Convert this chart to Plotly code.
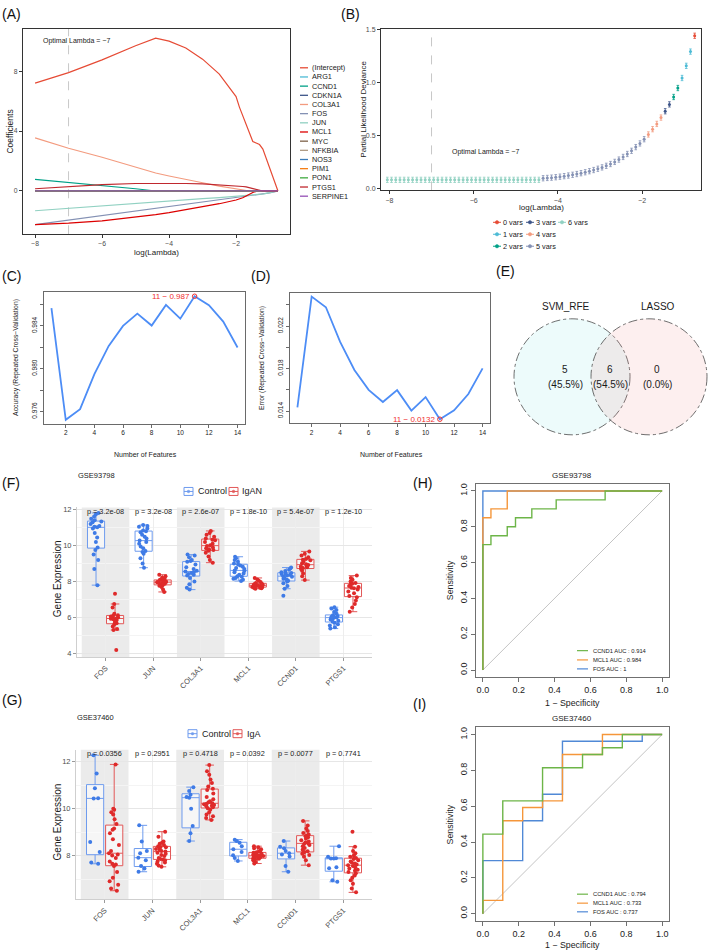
import plotly.graph_objects as go

FONT = "Liberation Sans, Arial, Helvetica, sans-serif"
W, H = 708, 952

# ======================= DATA =======================
# (A) LASSO coefficient paths
lasso_loglambda = [-8, -7, -6, -5, -4.4, -4, -3.5, -3, -2.5, -2, -1.9, -1.8, -1.7, -1.6,
                   -1.5, -1.4, -1.3, -1.2, -1.1, -1.0, -0.9, -0.75]
path_intercept = [7.2, 7.9, 8.75, 9.7, 10.2, 10.0, 9.55, 8.8, 7.8, 6.3, 5.6, 5.0, 4.5, 3.9,
                  3.3, 3.2, 3.1, 2.8, 2.2, 1.6, 0.9, 0.0]
path_col3a1 = [3.55, 2.85, 2.25, 1.6, 1.2, 1.0, 0.75, 0.55, 0.32, 0.12, 0.08, 0.05, 0.02, 0.0,
               0.0, 0.0, 0.0, 0.0, 0.0, 0.0, 0.0, 0.0]
path_ccnd1 = [0.78, 0.58, 0.38, 0.15, 0.0, 0.0, 0.0, 0.0, 0.0, 0.0, 0.0, 0.0, 0.0, 0.0,
              0.0, 0.0, 0.0, 0.0, 0.0, 0.0, 0.0, 0.0]
path_ptgs1 = [0.15, 0.3, 0.42, 0.5, 0.52, 0.52, 0.5, 0.48, 0.42, 0.35, 0.32, 0.3, 0.27, 0.22,
              0.15, 0.08, 0.02, 0.0, 0.0, 0.0, 0.0, 0.0]
path_mcl1 = [-2.25, -2.15, -2.0, -1.75, -1.58, -1.45, -1.25, -1.05, -0.85, -0.6, -0.55, -0.45,
             -0.33, -0.2, -0.1, -0.03, 0.0, 0.0, 0.0, 0.0, 0.0, 0.0]
path_fos = [-2.25, -1.95, -1.65, -1.35, -1.18, -1.05, -0.9, -0.75, -0.6, -0.45, -0.42, -0.39,
            -0.36, -0.33, -0.3, -0.27, -0.24, -0.21, -0.17, -0.13, -0.08, 0.0]
path_jun = [-1.32, -1.15, -0.98, -0.82, -0.73, -0.67, -0.59, -0.51, -0.44, -0.36, -0.34, -0.32,
            -0.31, -0.29, -0.27, -0.25, -0.23, -0.2, -0.16, -0.12, -0.07, 0.0]
path_zero = [0.0, 0.0, 0.0, 0.0, 0.0, 0.0, 0.0, 0.0, 0.0, 0.0, 0.0, 0.0, 0.0, 0.0,
             0.0, 0.0, 0.0, 0.0, 0.0, 0.0, 0.0, 0.0]
lasso_genes = ["(Intercept)", "ARG1", "CCND1", "CDKN1A", "COL3A1", "FOS", "JUN", "MCL1",
               "MYC", "NFKBIA", "NOS3", "PIM1", "PON1", "PTGS1", "SERPINE1"]
optimal_log_lambda = -7

# (B) cross-validation deviance
cv_loglambda = [-8.05, -7.95, -7.85, -7.75, -7.65, -7.55, -7.45, -7.35, -7.25, -7.15,
                -7.05, -6.95, -6.85, -6.75, -6.65, -6.55, -6.45, -6.35, -6.25, -6.15,
                -6.05, -5.95, -5.85, -5.75, -5.65, -5.55, -5.45, -5.35, -5.25, -5.15,
                -5.05, -4.95, -4.85, -4.75, -4.65, -4.55, -4.45,
                -4.35, -4.25, -4.15, -4.05, -3.95, -3.85, -3.75, -3.65, -3.55, -3.45,
                -3.35, -3.25, -3.15, -3.05, -2.95, -2.85, -2.75, -2.65, -2.55, -2.45,
                -2.35, -2.25, -2.15, -2.05, -1.95,
                -1.85, -1.75, -1.65, -1.55,
                -1.45, -1.35,
                -1.25, -1.15,
                -1.05, -0.95, -0.85,
                -0.75]
cv_deviance = [0.08, 0.08, 0.08, 0.08, 0.08, 0.08, 0.08, 0.08, 0.08, 0.08,
               0.08, 0.08, 0.08, 0.08, 0.08, 0.08, 0.08, 0.08, 0.08, 0.08,
               0.08, 0.08, 0.08, 0.08, 0.08, 0.08, 0.08, 0.08, 0.08, 0.08,
               0.08, 0.08, 0.08, 0.08, 0.08, 0.08, 0.08,
               0.095, 0.098, 0.101, 0.105, 0.110, 0.115, 0.121, 0.128, 0.135, 0.143,
               0.152, 0.162, 0.173, 0.185, 0.198, 0.213, 0.230, 0.250, 0.272, 0.297,
               0.325, 0.355, 0.390, 0.425, 0.465,
               0.51, 0.56, 0.61, 0.67,
               0.73, 0.795,
               0.865, 0.95,
               1.045, 1.16, 1.295,
               1.445]
cv_nvars = [6, 6, 6, 6, 6, 6, 6, 6, 6, 6,
            6, 6, 6, 6, 6, 6, 6, 6, 6, 6,
            6, 6, 6, 6, 6, 6, 6, 6, 6, 6,
            6, 6, 6, 6, 6, 6, 6,
            5, 5, 5, 5, 5, 5, 5, 5, 5, 5,
            5, 5, 5, 5, 5, 5, 5, 5, 5, 5,
            5, 5, 5, 5, 5,
            4, 4, 4, 4,
            3, 3,
            2, 2,
            1, 1, 1,
            0]
cv_se = 0.025

# (C)/(D) SVM-RFE
rfe_features = [1, 2, 3, 4, 5, 6, 7, 8, 9, 10, 11, 12, 13, 14]
rfe_accuracy = [0.98565, 0.97522, 0.97622, 0.97949, 0.98213, 0.98400, 0.98515,
                0.98403, 0.98596, 0.98468, 0.98677, 0.98593, 0.98440, 0.98198]
rfe_error = [0.01435, 0.02478, 0.02378, 0.02051, 0.01787, 0.01600, 0.01485,
             0.01597, 0.01404, 0.01532, 0.01323, 0.01407, 0.01560, 0.01802]

# (E) Venn
venn_names = ["SVM_RFE", "LASSO"]
venn_counts = [5, 6, 0]  # SVM only, both, LASSO only

# (F) GSE93798 expression
genes = ["FOS", "JUN", "COL3A1", "MCL1", "CCND1", "PTGS1"]
f_control = {
    "FOS": [11.82, 11.75, 11.62, 11.5, 11.42, 11.35, 11.3, 11.2, 11.1, 11.05, 11.02, 10.95, 10.7, 10.45, 10.2, 9.9, 9.75, 9.5, 9.2, 8.7, 7.8],
    "JUN": [11.15, 11.1, 11.05, 10.95, 10.85, 10.8, 10.75, 10.6, 10.5, 10.4, 10.28, 10.2, 10.1, 9.95, 9.85, 9.7, 9.65, 9.55, 9.3, 9.0, 8.77],
    "COL3A1": [9.5, 9.45, 9.35, 9.2, 9.15, 9.1, 8.95, 8.8, 8.7, 8.6, 8.56, 8.52, 8.48, 8.42, 8.38, 8.34, 8.2, 8.0, 7.85, 7.65, 7.55],
    "MCL1": [9.38, 9.3, 9.2, 9.1, 9.0, 8.95, 8.9, 8.82, 8.75, 8.7, 8.62, 8.58, 8.52, 8.45, 8.38, 8.3, 8.27, 8.2, 8.15, 8.1, 8.03],
    "CCND1": [8.78, 8.72, 8.65, 8.58, 8.52, 8.48, 8.45, 8.42, 8.38, 8.34, 8.3, 8.26, 8.2, 8.15, 8.1, 8.04, 8.0, 7.9, 7.75, 7.6, 7.21],
    "PTGS1": [6.57, 6.5, 6.42, 6.3, 6.2, 6.12, 6.08, 6.05, 6.03, 6.01, 5.99, 5.96, 5.92, 5.88, 5.82, 5.76, 5.7, 5.62, 5.55, 5.45, 5.38],
}
f_igan = {
    "FOS": [7.32, 6.75, 6.55, 6.2, 6.12, 6.1, 6.05, 6.0, 5.97, 5.95, 5.93, 5.9, 5.85, 5.75, 5.68, 5.62, 5.5, 5.35, 5.3, 4.18],
    "JUN": [8.38, 8.3, 8.22, 8.15, 8.1, 8.08, 8.05, 8.0, 7.98, 7.97, 7.96, 7.93, 7.9, 7.87, 7.83, 7.8, 7.76, 7.7, 7.55, 7.42],
    "COL3A1": [10.82, 10.7, 10.6, 10.5, 10.4, 10.33, 10.3, 10.2, 10.1, 10.02, 9.98, 9.9, 9.85, 9.8, 9.75, 9.72, 9.6, 9.4, 9.2, 9.05],
    "MCL1": [8.2, 8.12, 8.05, 7.97, 7.92, 7.88, 7.86, 7.84, 7.81, 7.8, 7.78, 7.76, 7.74, 7.72, 7.7, 7.68, 7.66, 7.64, 7.62, 7.6],
    "CCND1": [9.68, 9.55, 9.45, 9.35, 9.25, 9.22, 9.18, 9.1, 9.02, 8.96, 8.92, 8.88, 8.84, 8.8, 8.75, 8.7, 8.6, 8.45, 8.3, 8.08],
    "PTGS1": [8.33, 8.2, 8.1, 8.0, 7.92, 7.88, 7.82, 7.75, 7.7, 7.66, 7.62, 7.55, 7.45, 7.35, 7.2, 7.12, 6.95, 6.75, 6.55, 6.32],
}
f_pvalues = ["3.2e-08", "3.2e-08", "2.6e-07", "1.8e-10", "5.4e-07", "1.2e-10"]

# (G) GSE37460 expression
g_control = {
    "FOS": [12.28, 11.5, 10.87, 10.45, 10.44, 8.58, 8.15, 7.7, 7.65],
    "JUN": [9.29, 8.6, 8.2, 8.1, 7.91, 7.8, 7.56, 7.45, 7.31],
    "COL3A1": [10.92, 10.75, 10.6, 10.5, 10.47, 10.0, 9.26, 8.95, 8.62],
    "MCL1": [8.68, 8.62, 8.55, 8.4, 8.27, 8.15, 8.01, 7.9, 7.77],
    "CCND1": [8.62, 8.38, 8.31, 8.2, 8.1, 8.05, 7.96, 7.55, 7.31],
    "PTGS1": [8.4, 7.95, 7.89, 7.88, 7.87, 7.5, 7.46, 6.95, 6.88],
}
g_iga = {
    "FOS": [6.5, 6.6, 6.75, 6.9, 7.05, 7.3, 7.55, 7.62, 7.65, 7.75, 7.9, 8.0, 8.05, 8.1, 8.2, 8.45, 8.7, 8.95, 9.1, 9.15, 9.35, 9.55, 9.75, 9.85, 9.95, 10.0, 11.89],
    "JUN": [7.52, 7.58, 7.65, 7.7, 7.75, 7.8, 7.83, 7.85, 7.9, 7.98, 8.02, 8.08, 8.12, 8.17, 8.2, 8.24, 8.28, 8.32, 8.35, 8.37, 8.4, 8.45, 8.5, 8.55, 8.6, 8.8, 9.02],
    "COL3A1": [9.52, 9.6, 9.68, 9.75, 9.85, 9.95, 10.02, 10.06, 10.1, 10.13, 10.16, 10.19, 10.21, 10.23, 10.27, 10.32, 10.4, 10.5, 10.65, 10.8, 10.85, 10.95, 11.1, 11.25, 11.45, 11.6, 11.86],
    "MCL1": [7.66, 7.72, 7.77, 7.8, 7.83, 7.86, 7.88, 7.9, 7.92, 7.94, 7.95, 7.96, 7.98, 7.99, 8.0, 8.02, 8.04, 8.06, 8.09, 8.12, 8.14, 8.18, 8.22, 8.27, 8.31, 8.36, 8.4],
    "CCND1": [7.59, 7.8, 7.95, 8.02, 8.08, 8.12, 8.15, 8.18, 8.25, 8.32, 8.4, 8.45, 8.49, 8.52, 8.56, 8.6, 8.65, 8.72, 8.78, 8.82, 8.86, 8.9, 8.96, 9.05, 9.15, 9.28, 9.48],
    "PTGS1": [6.43, 6.6, 6.8, 6.95, 7.05, 7.15, 7.25, 7.3, 7.35, 7.4, 7.45, 7.5, 7.55, 7.59, 7.62, 7.66, 7.7, 7.75, 7.8, 7.85, 7.9, 7.95, 8.0, 8.1, 8.2, 8.38, 9.02],
}
g_pvalues = ["0.0356", "0.2951", "0.4718", "0.0392", "0.0077", "0.7741"]

# (H) ROC GSE93798
h_fos_fpr = [0, 0, 1]
h_fos_tpr = [0, 1, 1]
h_mcl1_fpr = [0, 0, 0.045, 0.136, 1]
h_mcl1_tpr = [0, 0.85, 0.9, 1.0, 1.0]
h_ccnd1_fpr = [0, 0, 0.045, 0.136, 0.182, 0.273, 0.409, 0.682, 1]
h_ccnd1_tpr = [0, 0.7, 0.75, 0.8, 0.85, 0.9, 0.95, 1.0, 1.0]
h_auc = ["0.914", "0.984", "1"]  # CCND1, MCL1, FOS

# (I) ROC GSE37460
i_fos_fpr = [0, 0, 0.222, 0.333, 0.444, 0.889, 1]
i_fos_tpr = [0, 0.296, 0.519, 0.667, 0.963, 1.0, 1.0]
i_mcl1_fpr = [0, 0, 0.111, 0.222, 0.333, 0.444, 0.667, 1]
i_mcl1_tpr = [0, 0.074, 0.519, 0.593, 0.63, 0.889, 1.0, 1.0]
i_ccnd1_fpr = [0, 0, 0.111, 0.333, 0.556, 0.667, 0.778, 1]
i_ccnd1_tpr = [0, 0.444, 0.63, 0.815, 0.889, 0.926, 1.0, 1.0]
i_auc = ["0.794", "0.733", "0.737"]

# ======================= STYLE =======================
lasso_colors = {"(Intercept)": "#E64B35", "ARG1": "#4DBBD5", "CCND1": "#00A087", "CDKN1A": "#3C5488",
                "COL3A1": "#F39B7F", "FOS": "#8491B4", "JUN": "#91D1C2", "MCL1": "#DC0000",
                "MYC": "#7E6148", "NFKBIA": "#B09C85", "NOS3": "#3B7BB8", "PIM1": "#F57F17",
                "PON1": "#3FAA3F", "PTGS1": "#C0282E", "SERPINE1": "#9550B5"}
nv_colors = {0: "#E64B35", 1: "#4DBBD5", 2: "#00A087", 3: "#3C5488", 4: "#F39B7F", 5: "#8491B4", 6: "#91D1C2"}
BLUE_PT, BLUE_LN = "#3F7BE6", "#6E9BEE"
RED_PT, RED_LN = "#DF2A2A", "#E25858"
ROC_GREEN, ROC_ORANGE, ROC_BLUE = "#6DB548", "#F5963A", "#5089D6"
LINE_BLUE = "#4D8DF6"

lasso_paths = {"(Intercept)": path_intercept, "ARG1": path_zero, "CCND1": path_ccnd1,
               "CDKN1A": path_zero, "COL3A1": path_col3a1, "FOS": path_fos, "JUN": path_jun,
               "MCL1": path_mcl1, "MYC": path_zero, "NFKBIA": path_zero, "NOS3": path_zero,
               "PIM1": path_zero, "PON1": path_zero, "PTGS1": path_ptgs1, "SERPINE1": path_zero}


def X(p):
    return p / W


def Y(p):
    return 1 - p / H


annotations = []
shapes = []


def add_text(x, y, s, size, color="#1A1A1A", xanchor="center", yanchor="middle", angle=0):
    annotations.append(dict(xref="paper", yref="paper", x=X(x), y=Y(y), text=s, showarrow=False,
                            font=dict(family=FONT, size=size, color=color), xanchor=xanchor,
                            yanchor=yanchor, textangle=angle, borderpad=0))


def add_pline(x0, y0, x1, y1, color, width=1.0, dash="solid"):
    shapes.append(dict(type="line", xref="paper", yref="paper", x0=X(x0), y0=Y(y0), x1=X(x1), y1=Y(y1),
                       line=dict(color=color, width=width, dash=dash)))


def add_pcircle(cx, cy, r, color):
    shapes.append(dict(type="circle", xref="paper", yref="paper", x0=X(cx - r), x1=X(cx + r),
                       y0=Y(cy + r), y1=Y(cy - r), fillcolor=color, line=dict(color=color, width=0.5)))


def add_prect(x0, y0, x1, y1, line_color, fill="white", width=1.0):
    shapes.append(dict(type="rect", xref="paper", yref="paper", x0=X(x0), x1=X(x1), y0=Y(y1), y1=Y(y0),
                       fillcolor=fill, line=dict(color=line_color, width=width)))


def framed_axis(domain, rng, tickvals, ticktext, size, anchor, linecolor="#333333", tickcolor="#4D4D4D",
                angle=0, ticklen=3):
    return dict(domain=domain, range=rng, tickvals=tickvals, ticktext=ticktext, showline=True, mirror=True,
                linecolor=linecolor, linewidth=1, ticks="outside", ticklen=ticklen, tickcolor=linecolor,
                tickwidth=1, tickfont=dict(family=FONT, size=size, color=tickcolor), showgrid=False,
                zeroline=False, anchor=anchor, tickangle=angle, fixedrange=True)


fig = go.Figure()

# ======================= (A) =======================
for g in lasso_genes:
    fig.add_trace(go.Scatter(x=lasso_loglambda, y=lasso_paths[g], mode="lines",
                             line=dict(color=lasso_colors[g], width=1.2), xaxis="x", yaxis="y",
                             showlegend=False, hoverinfo="skip"))
shapes.append(dict(type="line", xref="x", yref="y domain", x0=optimal_log_lambda, x1=optimal_log_lambda,
                   y0=0, y1=1, line=dict(color="#C8C8C8", width=1, dash="dash"), layer="below"))
add_text(42, 39, f"Optimal Lambda = \u2212{abs(optimal_log_lambda)}", 7, xanchor="left")
add_text(10, 130, "Coefficients", 8.5, angle=-90)
add_text(156, 251, "log(Lambda)", 8)
for i, g in enumerate(lasso_genes):
    yy = 66 + i * 9.2
    add_pline(300, yy, 308, yy, lasso_colors[g], 1.3)
    add_text(311, yy, g, 7.3, xanchor="left")

# ======================= (B) =======================
for nv in [6, 5, 4, 3, 2, 1, 0]:
    idx = [i for i, v in enumerate(cv_nvars) if v == nv]
    fig.add_trace(go.Scatter(x=[cv_loglambda[i] for i in idx], y=[cv_deviance[i] for i in idx],
                             mode="markers", marker=dict(color=nv_colors[nv], size=3),
                             error_y=dict(type="constant", value=cv_se, color=nv_colors[nv], thickness=0.8, width=1.3),
                             xaxis="x2", yaxis="y2", showlegend=False, hoverinfo="skip"))
shapes.append(dict(type="line", xref="x2", yref="y2 domain", x0=optimal_log_lambda, x1=optimal_log_lambda,
                   y0=0, y1=1, line=dict(color="#C8C8C8", width=1, dash="dash"), layer="below"))
add_text(485, 150, f"Optimal Lambda = \u2212{abs(optimal_log_lambda)}", 7)
add_text(364, 108, "Partial Likelihood Deviance", 8, angle=-90)
add_text(541, 206, "log(Lambda)", 8)
leg_pos = {0: (0, 0), 3: (0, 1), 6: (0, 2), 1: (1, 0), 4: (1, 1), 2: (2, 0), 5: (2, 1)}
col_x = [497, 530, 562]
row_y = [221, 233, 245]
for nv, (r, c) in leg_pos.items():
    dx, dy = col_x[c], row_y[r]
    add_pline(dx - 4, dy, dx + 4, dy, nv_colors[nv], 1)
    add_pcircle(dx, dy, 1.7, nv_colors[nv])
    add_text(dx + 4.5, dy, f"{nv} vars", 7.3, xanchor="left")

# ======================= (C) & (D) =======================
best_i = rfe_accuracy.index(max(rfe_accuracy))
fig.add_trace(go.Scatter(x=rfe_features, y=rfe_accuracy, mode="lines", line=dict(color=LINE_BLUE, width=1.8),
                         xaxis="x3", yaxis="y3", showlegend=False, hoverinfo="skip"))
fig.add_trace(go.Scatter(x=[rfe_features[best_i]], y=[rfe_accuracy[best_i]], mode="markers",
                         marker=dict(color="#F03030", size=4.5, symbol="circle-open", line=dict(width=1)),
                         xaxis="x3", yaxis="y3", showlegend=False, hoverinfo="skip"))
annotations.append(dict(xref="x3", yref="y3", x=rfe_features[best_i], y=rfe_accuracy[best_i],
                        text=f"{rfe_features[best_i]} \u2212 {rfe_accuracy[best_i]:.3f}", showarrow=False,
                        xanchor="right", yanchor="middle", xshift=-3,
                        font=dict(family=FONT, size=8, color="#F03030")))
best_j = rfe_error.index(min(rfe_error))
fig.add_trace(go.Scatter(x=rfe_features, y=rfe_error, mode="lines", line=dict(color=LINE_BLUE, width=1.8),
                         xaxis="x4", yaxis="y4", showlegend=False, hoverinfo="skip"))
fig.add_trace(go.Scatter(x=[rfe_features[best_j]], y=[rfe_error[best_j]], mode="markers",
                         marker=dict(color="#F03030", size=4.5, symbol="circle-open", line=dict(width=1)),
                         xaxis="x4", yaxis="y4", showlegend=False, hoverinfo="skip"))
annotations.append(dict(xref="x4", yref="y4", x=rfe_features[best_j], y=rfe_error[best_j],
                        text=f"{rfe_features[best_j]} \u2212 {rfe_error[best_j]:.4f}", showarrow=False,
                        xanchor="right", yanchor="middle", xshift=-3,
                        font=dict(family=FONT, size=8, color="#F03030")))
add_text(16, 357, "Accuracy (Repeated Cross\u2212Validation)", 6.8, angle=-90)
add_text(145, 454, "Number of Features", 7)
add_text(262, 357, "Error (Repeated Cross\u2212Validation)", 6.8, angle=-90)
add_text(391, 454, "Number of Features", 7)

# ======================= (E) Venn =======================
for cx, col in [(572, "rgba(175,238,238,0.22)"), (649, "rgba(240,128,128,0.13)")]:
    shapes.append(dict(type="circle", xref="paper", yref="paper", xsizemode="pixel", ysizemode="pixel",
                       xanchor=X(cx), yanchor=Y(376), x0=-58, x1=58, y0=-58, y1=58,
                       fillcolor=col, line=dict(color="#4A4A4A", width=0.8, dash="dashdot")))
tot = sum(venn_counts)
add_text(566, 305, venn_names[0], 10)
add_text(658, 305, venn_names[1], 10)
for cx, n in zip([565, 610, 657], venn_counts):
    add_text(cx, 369, str(n), 10)
    add_text(cx, 384, f"({100 * n / tot:.1f}%)", 10)

# ======================= (F) & (G) boxplots =======================
def add_boxes(xa, ya, ctrl, case, panel):
    for data, pc, lc, grp in [(ctrl, BLUE_PT, BLUE_LN, "ctrl"), (case, RED_PT, RED_LN, "case")]:
        xs, ys = [], []
        for g in genes:
            xs += [g] * len(data[g])
            ys += data[g]
        fig.add_trace(go.Box(x=xs, y=ys, xaxis=xa, yaxis=ya, boxpoints="all", jitter=0.7, pointpos=0,
                             marker=dict(color=pc, size=4), line=dict(color=lc, width=1),
                             fillcolor="rgba(255,255,255,0.55)", showlegend=False, hoverinfo="skip",
                             quartilemethod="linear", alignmentgroup=panel, offsetgroup=panel + grp))


add_boxes("x5", "y5", f_control, f_igan, "F")
add_boxes("x6", "y6", g_control, g_iga, "G")
for xr in ["x5", "x6"]:
    for i in range(0, len(genes), 2):
        shapes.append(dict(type="rect", xref=xr, yref=xr.replace("x", "y") + " domain", x0=i - 0.5, x1=i + 0.5,
                           y0=0, y1=1, fillcolor="#EBEBEB", line=dict(width=0), layer="below"))
for g, p in zip(genes, f_pvalues):
    annotations.append(dict(xref="x5", yref="y5", x=g, y=11.92, text=f"p = {p}", showarrow=False,
                            font=dict(family=FONT, size=7.3, color="#222222")))
for g, p in zip(genes, g_pvalues):
    annotations.append(dict(xref="x6", yref="y6", x=g, y=12.34, text=f"p = {p}", showarrow=False,
                            font=dict(family=FONT, size=7.3, color="#222222")))
add_text(77, 475, "GSE93798", 7.5, xanchor="left")
add_text(76, 718, "GSE37460", 7.5, xanchor="left")
add_text(57, 578, "Gene Expression", 10, angle=-90)
add_text(57, 822, "Gene Expression", 10, angle=-90)


def box_legend(x0, y, label0, label1, x1):
    for bx, lc, lab in [(x0, BLUE_LN, label0), (x1, RED_LN, label1)]:
        add_prect(bx, y - 4, bx + 9, y + 4, lc, "white", 1)
        add_pline(bx, y, bx + 9, y, lc, 1)
        add_pcircle(bx + 4.5, y, 1.3, lc)
        add_text(bx + 12.5, y, lab, 9, xanchor="left")


box_legend(184, 491, "Control", "IgAN", 229)
box_legend(188, 734, "Control", "IgA", 233)

# ======================= (H) & (I) ROC =======================
def add_roc(xa, ya, curves):
    for fpr, tpr, col in curves:
        fig.add_trace(go.Scatter(x=fpr, y=tpr, mode="lines", line=dict(color=col, width=1.4, shape="hv"),
                                 xaxis=xa, yaxis=ya, showlegend=False, hoverinfo="skip"))
    shapes.append(dict(type="line", xref=xa, yref=ya, x0=0, y0=0, x1=1, y1=1,
                       line=dict(color="#C4C4C4", width=1), layer="below"))


add_roc("x7", "y7", [(h_fos_fpr, h_fos_tpr, ROC_BLUE), (h_mcl1_fpr, h_mcl1_tpr, ROC_ORANGE),
                     (h_ccnd1_fpr, h_ccnd1_tpr, ROC_GREEN)])
add_roc("x8", "y8", [(i_fos_fpr, i_fos_tpr, ROC_BLUE), (i_mcl1_fpr, i_mcl1_tpr, ROC_ORANGE),
                     (i_ccnd1_fpr, i_ccnd1_tpr, ROC_GREEN)])
for ys, aucs in [([650.7, 660, 669], h_auc), ([895, 904, 912.7], i_auc)]:
    for yy, name, col, auc in zip(ys, ["CCND1", "MCL1", "FOS"], [ROC_GREEN, ROC_ORANGE, ROC_BLUE], aucs):
        add_pline(577, yy, 588, yy, col, 1.2)
        add_text(591.5, yy, f"{name} AUC : {auc}", 5.8, xanchor="left")
add_text(572, 475, "GSE93798", 8)
add_text(572, 719, "GSE37460", 8)
add_text(450, 580, "Sensitivity", 8.8, angle=-90)
add_text(450, 825, "Sensitivity", 8.8, angle=-90)
add_text(572, 703, "1 \u2212 Specificity", 8.8)
add_text(572, 946, "1 \u2212 Specificity", 8.8)

# ======================= panel labels =======================
for lab, x, y in [("(A)", 1, 12), ("(B)", 340, 12), ("(C)", 1, 275), ("(D)", 250, 275), ("(E)", 495, 270),
                  ("(F)", 1, 483), ("(G)", 1, 700), ("(H)", 412, 483), ("(I)", 412, 704)]:
    add_text(x, y, lab, 14, color="#111111", xanchor="left")

# ======================= layout =======================
def cat_axis(domain, anchor):
    return dict(domain=domain, type="category", categoryorder="array", categoryarray=genes, range=[-0.6, 5.6],
                anchor=anchor, showgrid=True, gridcolor="#EDEDED", gridwidth=1, showline=True,
                linecolor="#CFCFCF", ticks="outside", ticklen=3, tickcolor="#9A9A9A", tickangle=-45,
                tickfont=dict(family=FONT, size=7.5, color="#4D4D4D"), zeroline=False, fixedrange=True)


def val_axis(domain, rng, tickvals, minor_vals, anchor):
    return dict(domain=domain, range=rng, tickvals=tickvals, anchor=anchor, showgrid=True,
                gridcolor="#E6E6E6", gridwidth=1, showline=True, linecolor="#CFCFCF", ticks="outside",
                ticklen=3, tickcolor="#9A9A9A", tickfont=dict(family=FONT, size=7.5, color="#4D4D4D"),
                minor=dict(tickvals=minor_vals, showgrid=True, gridcolor="#F4F4F4", ticks=""),
                zeroline=False, fixedrange=True)


roc_ticks = [0, 0.2, 0.4, 0.6, 0.8, 1.0]
roc_text = ["0.0", "0.2", "0.4", "0.6", "0.8", "1.0"]

fig.update_layout(
    width=W, height=H, autosize=False, margin=dict(l=0, r=0, t=0, b=0),
    paper_bgcolor="white", plot_bgcolor="white", font=dict(family=FONT),
    showlegend=False, boxmode="group", boxgap=0.2, boxgroupgap=0.1,
    xaxis=framed_axis([X(23), X(290)], [-8.36, -0.39], [-8, -6, -4, -2], ["\u22128", "\u22126", "\u22124", "\u22122"], 6.8, "y"),
    yaxis=framed_axis([Y(233), Y(27)], [-2.89, 10.82], [0, 4, 8], ["0", "4", "8"], 6.8, "x"),
    xaxis2=framed_axis([X(381), X(701)], [-8.2, -0.6], [-8, -6, -4, -2], ["\u22128", "\u22126", "\u22124", "\u22122"], 7, "y2"),
    yaxis2=framed_axis([Y(189), Y(27)], [-0.02, 1.51], [0, 0.5, 1.0, 1.5], ["0.0", "0.5", "1.0", "1.5"], 7, "x2"),
    xaxis3=framed_axis([X(44), X(245)], [0.48, 14.52], [2, 4, 6, 8, 10, 12, 14], ["2", "4", "6", "8", "10", "12", "14"], 6.5, "y3", linecolor="#6A6A6A", tickcolor="#222222"),
    yaxis3=framed_axis([Y(423), Y(291)], [0.97486, 0.98716], [0.976, 0.978, 0.980, 0.982, 0.984, 0.986],
                       ["0.976", "", "0.980", "", "0.984", ""], 6.5, "x3", linecolor="#6A6A6A", tickcolor="#222222", angle=-90),
    xaxis4=framed_axis([X(290), X(490)], [0.48, 14.52], [2, 4, 6, 8, 10, 12, 14], ["2", "4", "6", "8", "10", "12", "14"], 6.5, "y4", linecolor="#6A6A6A", tickcolor="#222222"),
    yaxis4=framed_axis([Y(422.7), Y(291.7)], [0.01284, 0.02514], [0.014, 0.016, 0.018, 0.020, 0.022, 0.024],
                       ["0.014", "", "0.018", "", "0.022", ""], 6.5, "x4", linecolor="#6A6A6A", tickcolor="#222222", angle=-90),
    xaxis5=cat_axis([X(77), X(372)], "y5"),
    yaxis5=val_axis([Y(657), Y(507)], [3.8, 12.13], [4, 6, 8, 10, 12], [5, 7, 9, 11], "x5"),
    xaxis6=cat_axis([X(76), X(372)], "y6"),
    yaxis6=val_axis([Y(900), Y(750)], [6.14, 12.52], [8, 10, 12], [7, 9, 11], "x6"),
    xaxis7=framed_axis([X(475.7), X(669.3)], [-0.04, 1.04], roc_ticks, roc_text, 9, "y7", linecolor="#707070", tickcolor="#222222", ticklen=4),
    yaxis7=framed_axis([Y(677.3), Y(483.3)], [-0.04, 1.04], roc_ticks, roc_text, 9, "x7", linecolor="#707070", tickcolor="#222222", angle=-90, ticklen=4),
    xaxis8=framed_axis([X(475.7), X(669.3)], [-0.04, 1.04], roc_ticks, roc_text, 9, "y8", linecolor="#707070", tickcolor="#222222", ticklen=4),
    yaxis8=framed_axis([Y(921.7), Y(727.7)], [-0.04, 1.04], roc_ticks, roc_text, 9, "x8", linecolor="#707070", tickcolor="#222222", angle=-90, ticklen=4),
    annotations=annotations, shapes=shapes,
)

fig.write_html("out.html", config={"displayModeBar": False})
